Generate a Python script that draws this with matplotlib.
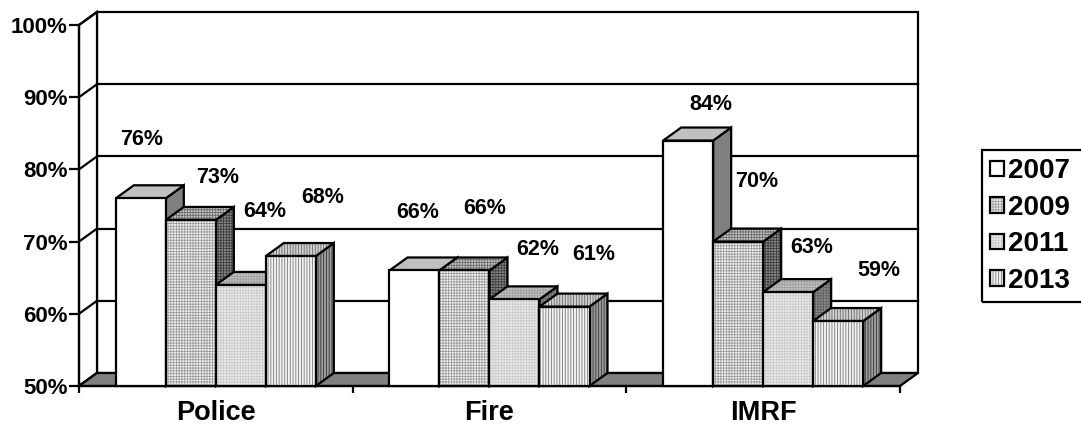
import matplotlib.pyplot as plt
from matplotlib.patches import Polygon, Patch, Rectangle
from matplotlib.legend_handler import HandlerTuple

plt.rcParams['font.family'] = ['Liberation Sans', 'DejaVu Sans']
plt.rcParams['font.weight'] = 'bold'
plt.rcParams['hatch.linewidth'] = 0.6

categories = ['Police', 'Fire', 'IMRF']
years = ['2007', '2009', '2011', '2013']
rate_2007 = [76, 66, 84]
rate_2009 = [73, 66, 70]
rate_2011 = [64, 62, 63]
rate_2013 = [68, 61, 59]
series = [rate_2007, rate_2009, rate_2011, rate_2013]

# label nudges in pixels (right, up) from the top front of each bar
label_dx = [[1, 3, 23], [27, 20, 19], [24, 23, 24], [32, 29, 41]]
label_dy = [[59, 58, 36], [42, 62, 60], [73, 50, 45], [59, 52, 51]]

# front / top / side colours, hatch, hatch colours
styles = [
    (('white', '#c0c0c0', '#808080'), None, None),
    (('#f2f2f2', '#c4c4c4', '#8a8a8a'), '++++++', ('#9c9c9c', '#6c6c6c', '#3c3c3c')),
    (('#ececec', '#c0c0c0', '#8c8c8c'), '++++++', ('#cacaca', '#a0a0a0', '#606060')),
    (('#f2f2f2', '#d0d0d0', '#9a9a9a'), '||||||', ('#7c7c7c', '#666666', '#383838')),
]

W, H = 1081, 430
fig = plt.figure(figsize=(W / 100, H / 100), dpi=100)
ax = fig.add_axes([79 / W, 44 / H, 821 / W, 361 / H])
ax.set_xlim(0, 3)
ax.set_ylim(50, 100)

px_x = 3 / 821      # data units per pixel
px_y = 50 / 361
DX, DY = 18 * px_x, 13 * px_y
LW = 1.6


def face(pts, fc, hatch=None, hc=None, z=3):
    ax.add_patch(Polygon(pts, closed=True, facecolor=fc, edgecolor=hc or fc,
                         hatch=hatch, lw=0, clip_on=False, zorder=z))
    ax.add_patch(Polygon(pts, closed=True, fill=False, edgecolor='black',
                         lw=LW, clip_on=False, zorder=z))


# back wall, side wall and floor
face([(DX, 50 + DY), (3 + DX, 50 + DY), (3 + DX, 100 + DY), (DX, 100 + DY)], 'white', z=1)
face([(0, 50), (DX, 50 + DY), (DX, 100 + DY), (0, 100)], 'white', z=1)
for v in range(60, 100, 10):
    ax.plot([DX, 3 + DX], [v + DY, v + DY], color='black', lw=LW, zorder=1, clip_on=False)
for v in range(50, 101, 10):
    ax.plot([0, DX], [v, v + DY], color='black', lw=LW, zorder=1, clip_on=False)
face([(0, 50), (3, 50), (3 + DX, 50 + DY), (DX, 50 + DY)], '#808080', z=2)

# 3d bars
w = 50 * px_x
z = 3
for i in range(len(categories)):
    for j, vals in enumerate(series):
        v = vals[i]
        cols, hatch, hcs = styles[j]
        hcs = hcs or (None, None, None)
        x0 = i + 0.5 - 2 * w + j * w
        x1 = x0 + w
        face([(x1, 50), (x1 + DX, 50 + DY), (x1 + DX, v + DY), (x1, v)], cols[2], hatch, hcs[2], z)
        face([(x0, v), (x1, v), (x1 + DX, v + DY), (x0 + DX, v + DY)], cols[1], hatch, hcs[1], z)
        face([(x0, 50), (x1, 50), (x1, v), (x0, v)], cols[0], hatch, hcs[0], z)
        z += 0.01
        ax.annotate(f'{v}%', xy=(x0 + w / 2, v),
                    xytext=(label_dx[j][i] * 0.72, label_dy[j][i] * 0.72),
                    textcoords='offset points', ha='center', va='center',
                    fontsize=15.5, fontweight='bold', zorder=10)

# axes
for s in ['top', 'right']:
    ax.spines[s].set_visible(False)
for s in ['left', 'bottom']:
    ax.spines[s].set_linewidth(LW)
    ax.spines[s].set_zorder(2.5)
ax.set_yticks(range(50, 101, 10))
ax.set_yticklabels([f'{v}%' for v in range(50, 101, 10)])
ax.tick_params(axis='y', length=7, width=LW, pad=1, labelsize=16)
ax.set_xticks([0, 1, 2, 3])
ax.set_xticklabels([])
ax.set_xticks([0.5, 1.5, 2.5], minor=True)
ax.set_xticklabels(categories, minor=True)
ax.tick_params(axis='x', which='major', length=5, width=LW)
ax.tick_params(axis='x', which='minor', length=0, pad=10, labelsize=19.5)

# legend; its frame is drawn separately so it runs off the right edge
handles = []
for cols, hatch, hcs in styles:
    hc = hcs[0] if hcs else cols[0]
    handles.append((Patch(facecolor=cols[0], edgecolor=hc, hatch=hatch, lw=0),
                    Patch(fill=False, edgecolor='black', lw=LW)))
leg = fig.legend(handles, years, handler_map={tuple: HandlerTuple(ndivide=1, pad=0)},
                 loc='upper left', bbox_to_anchor=(982 / W, 1 - 150 / H),
                 borderaxespad=0, frameon=False, fontsize=20,
                 handlelength=0.5, handleheight=0.5, handletextpad=0.12,
                 labelspacing=0.38, borderpad=0.3)
fig.canvas.draw()
bb = leg.get_window_extent().transformed(fig.transFigure.inverted())
fig.add_artist(Rectangle((bb.x0, bb.y0), 0.1, bb.height, transform=fig.transFigure,
                         fill=False, edgecolor='black', lw=LW, clip_on=False))

fig.savefig('out.png', dpi=100)
